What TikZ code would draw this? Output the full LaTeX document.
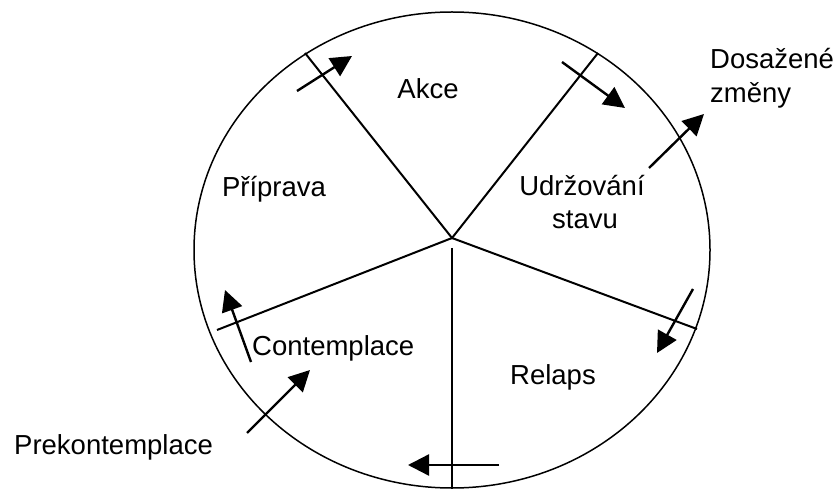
\documentclass[tikz,border=0pt]{standalone}
\usepackage{fontspec}
\setmainfont{Liberation Sans}
\usetikzlibrary{arrows.meta}
\begin{document}
\begin{tikzpicture}[x=1bp,y=-1bp,
  spoke/.style={line width=2bp},
  rim/.style={line width=1.5bp},
  flow/.style={line width=2.4bp,-{Triangle[length=21bp,width=21bp]}},
  lbl/.style={font=\fontsize{27.5bp}{33bp}\selectfont, inner sep=0pt}]
\useasboundingbox (0,0) rectangle (840,489);
% rim
\draw[rim] (452,250) ellipse [x radius=258, y radius=238];
% spokes
\coordinate (hub) at (452,238);
\coordinate (sA) at (305,53);
\coordinate (sB) at (598,53);
\coordinate (sC) at (217,330);
\coordinate (sD) at (697,329);
\coordinate (sE1) at (452,248);
\coordinate (sE2) at (452,489);
\draw[spoke] (sA) -- (hub) -- (sB);
\draw[spoke] (sC) -- (hub) -- (sD);
\draw[spoke] (sE1) -- (sE2);
% labels
\node[lbl, anchor=base] (akce) at (428,99) {Akce};
\node[lbl, anchor=base] (prip) at (274,197) {Příprava};
\node[lbl, anchor=base] (udr1) at (582,196) {Udržování};
\node[lbl, anchor=base] (udr2) at (585,229) {stavu};
\node[lbl, anchor=base] (rel) at (553,384) {Relaps};
\node[lbl, anchor=base west] (cont) at (252,355) {Contemplace};
\node[lbl, anchor=base west] (prek) at (14,454) {Prekontemplace};
\node[lbl, anchor=base west] (dos1) at (710,69) {Dosažené};
\node[lbl, anchor=base west] (dos2) at (710,103) {změny};
% arrows
\coordinate (a1s) at (297,91);  \coordinate (a1e) at (352,56);
\coordinate (a2s) at (562,62);  \coordinate (a2e) at (625,108);
\coordinate (a3s) at (649,168); \coordinate (a3e) at (704,114);
\coordinate (a4s) at (693,289); \coordinate (a4e) at (657,353);
\coordinate (a5s) at (499,465); \coordinate (a5e) at (408,465);
\coordinate (a6s) at (251,362); \coordinate (a6e) at (225,290);
\coordinate (a7s) at (247,433); \coordinate (a7e) at (310,370);
\draw[flow] (a1s) -- (a1e);
\draw[flow] (a2s) -- (a2e);
\draw[flow] (a3s) -- (a3e);
\draw[flow] (a4s) -- (a4e);
\draw[flow] (a5s) -- (a5e);
\draw[flow] (a6s) -- (a6e);
\draw[flow] (a7s) -- (a7e);
\end{tikzpicture}
\end{document}
